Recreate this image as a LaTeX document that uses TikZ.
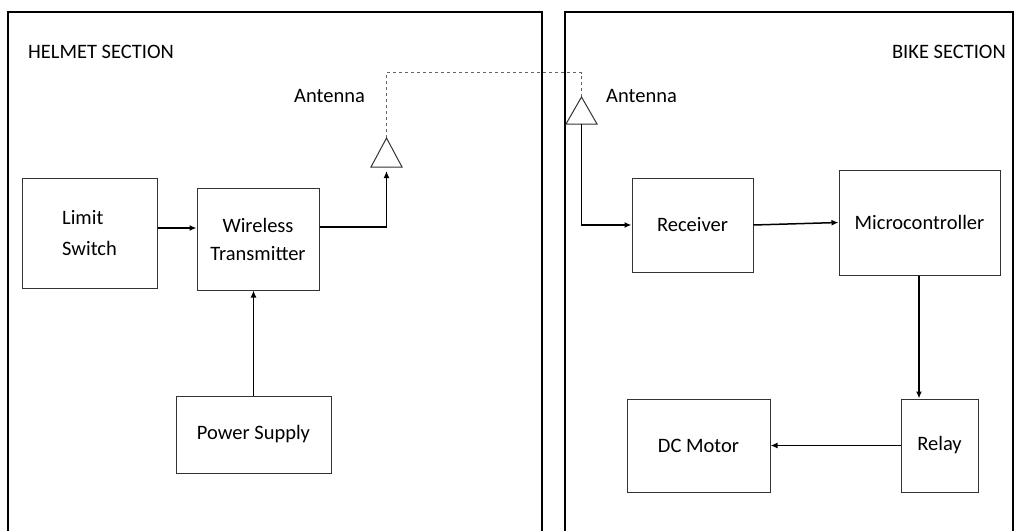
\documentclass[tikz,border=0pt]{standalone}
\usepackage{fontspec}
\setmainfont{Carlito}
\usetikzlibrary{arrows.meta}
\begin{document}
\begin{tikzpicture}[x=1pt,y=-1pt,
 section/.style={draw=black, line width=2pt},
 block/.style={draw=black!80, line width=1pt, inner sep=0pt, font=\fontsize{20.5}{28}\selectfont, align=center},
 conn/.style={line width=1.5pt, -{Latex[length=7pt,width=6pt]}},
 radio/.style={draw=black!60, line width=1.3pt, dash pattern=on 3pt off 3pt},
 antenna/.style={draw=black!80, line width=1pt, fill=white},
 lbl/.style={font=\fontsize{20.5}{24}\selectfont, inner sep=0pt}]
\useasboundingbox (0,0) rectangle (1016,530);
% sections
\draw[section] (8,12) rectangle (542,533);
\draw[section] (565,12) rectangle (1013,533);
\node[lbl, anchor=west] (hs) at (28,52) {HELMET SECTION};
\node[lbl, anchor=east] (bs) at (1006,52) {BIKE SECTION};
% blocks
\node[block, minimum width=135pt, minimum height=110pt, align=left, font=\fontsize{20.5}{31}\selectfont] (ls) at (89.5,233) {Limit\\Switch};
\node[block, minimum width=122pt, minimum height=102pt] (wt) at (258,239) {Wireless\\Transmitter};
\node[block, minimum width=155pt, minimum height=77pt] (ps) at (253.5,434.5) {Power Supply};
\node[block, minimum width=121pt, minimum height=94pt] (rx) at (692.5,225) {Receiver};
\node[block, minimum width=161pt, minimum height=105pt] (mc) at (919.5,222.5) {Microcontroller};
\node[block, minimum width=143pt, minimum height=93pt] (dc) at (698.5,445.5) {DC Motor};
\node[block, minimum width=77pt, minimum height=93pt] (rl) at (939.5,445.5) {Relay};
% antennas
\coordinate (a1top) at (386.5,138);
\coordinate (a1base) at (386.5,167);
\coordinate (a2top) at (581.5,97);
\coordinate (a2base) at (581.5,124);
\coordinate (lnkL) at (386.5,72.5);
\coordinate (lnkR) at (581.5,72.5);
\draw[radio] (a1top) -- (lnkL) -- (lnkR) -- (a2top);
\draw[antenna] (a1top) -- (371,167) -- (402,167) -- cycle;
\draw[antenna] (a2top) -- (566,124) -- (597,124) -- cycle;
\node[lbl, anchor=west] (ant1) at (294,96) {Antenna};
\node[lbl, anchor=west] (ant2) at (606,96) {Antenna};
% connectors
\draw[conn] ([yshift=5pt]ls.east) -- ([yshift=5pt]ls.east -| wt.west);
\draw[conn] ([yshift=12pt]wt.east) -| ([yshift=-4pt]a1base);
\draw[conn] (ps.north) -- (ps.north |- wt.south);
\draw[conn] (a2base) |- (rx.west);
\draw[conn] (rx.east) -- (mc.west);
\draw[conn] ([xshift=-0.5pt]mc.south) -- ([xshift=-0.5pt]mc.south |- rl.north);
\draw[conn] (rl.west) -- (dc.east);
\end{tikzpicture}
\end{document}
